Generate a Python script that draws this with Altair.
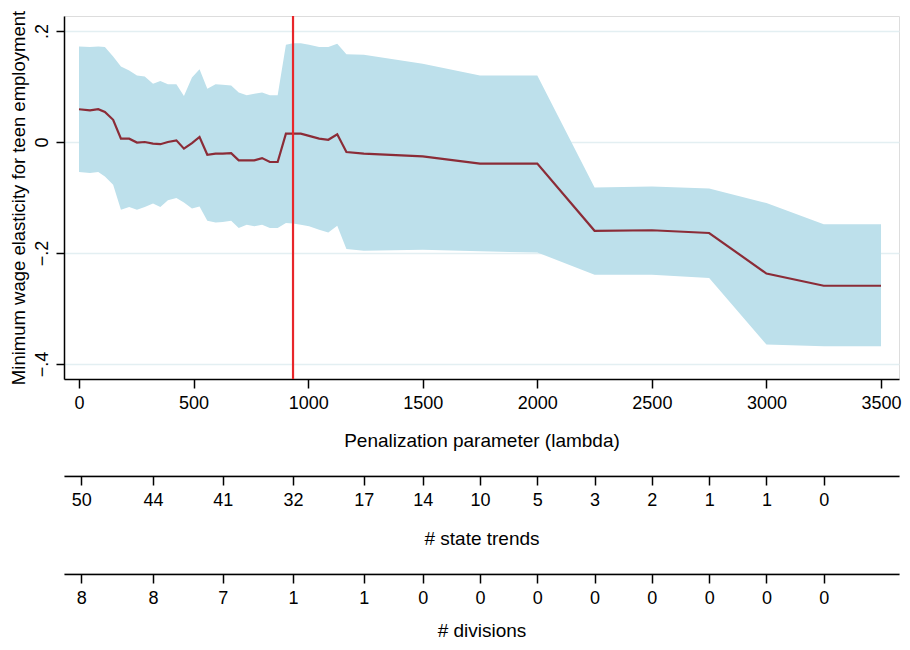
import json
import altair as alt
import pandas as pd

# ---- data ----
lam = [0, 48, 84, 113, 149, 183, 219, 253, 287, 323,
       355, 388, 425, 458, 493, 526, 560, 596, 627, 664,
       697, 732, 765, 799, 833, 867, 903, 934, 968, 1004,
       1048, 1088, 1127, 1167, 1243,
       1500, 1750, 2000, 2250, 2500, 2750, 3000, 3250, 3500]
est = [0.059, 0.057, 0.059, 0.054, 0.040, 0.006, 0.006, -0.001, 0.000, -0.003,
       -0.004, 0.000, 0.003, -0.012, -0.002, 0.009, -0.023, -0.021, -0.021, -0.020,
       -0.033, -0.033, -0.033, -0.029, -0.036, -0.036, 0.015, 0.015, 0.015, 0.011,
       0.006, 0.004, 0.014, -0.018, -0.021,
       -0.026, -0.039, -0.039, -0.160, -0.159, -0.164, -0.237, -0.259, -0.259]
ci_hi = [0.172, 0.171, 0.172, 0.171, 0.154, 0.136, 0.129, 0.120, 0.118, 0.105,
         0.110, 0.104, 0.104, 0.083, 0.116, 0.131, 0.096, 0.104, 0.103, 0.102,
         0.089, 0.084, 0.087, 0.089, 0.084, 0.084, 0.175, 0.178, 0.178, 0.175,
         0.171, 0.171, 0.177, 0.158, 0.157,
         0.141, 0.120, 0.120, -0.082, -0.080, -0.084, -0.110, -0.148, -0.148]
ci_lo = [-0.054, -0.056, -0.054, -0.062, -0.077, -0.122, -0.117, -0.122, -0.117, -0.111,
         -0.117, -0.105, -0.101, -0.109, -0.120, -0.116, -0.142, -0.145, -0.144, -0.142,
         -0.155, -0.149, -0.152, -0.149, -0.155, -0.155, -0.146, -0.147, -0.149, -0.152,
         -0.158, -0.163, -0.151, -0.193, -0.196,
         -0.194, -0.197, -0.199, -0.239, -0.239, -0.245, -0.365, -0.368, -0.368]
chosen_lambda = [934]

x_ticks = [0, 500, 1000, 1500, 2000, 2500, 3000, 3500]
y_ticks = [-0.4, -0.2, 0, 0.2]
lower_ticks = [10, 323, 627, 934, 1243, 1500, 1750, 2000, 2250, 2500, 2750, 3000, 3250]
state_trends = ["50", "44", "41", "32", "17", "14", "10", "5", "3", "2", "1", "1", "0"]
divisions = ["8", "8", "7", "1", "1", "0", "0", "0", "0", "0", "0", "0", "0"]

df = pd.DataFrame({"lam": lam, "est": est, "hi": ci_hi, "lo": ci_lo})

FONT = "Liberation Sans"
LFS = 18     # tick labels
TFS = 19     # axis titles
XDOM = [-65.46, 3578.5]
YDOM = [-0.427, 0.227]
W = 835
H = 363

xscale = alt.Scale(domain=XDOM, nice=False, zero=False)
yscale = alt.Scale(domain=YDOM, nice=False, zero=False)

common_axis = dict(
    domainColor="black", domainWidth=1.5, tickColor="black", tickWidth=1.5,
    labelColor="black", titleColor="black", labelFont=FONT, titleFont=FONT,
    labelFontSize=LFS, titleFontWeight="normal",
    labelFlush=False, labelOverlap=False,
)

x_main = alt.X(
    "lam:Q", scale=xscale,
    axis=alt.Axis(values=x_ticks, format="d", grid=False, tickSize=9,
                  labelPadding=6, title="Penalization parameter (lambda)",
                  titlePadding=19.5, titleFontSize=TFS, **common_axis),
)
y_main = alt.Y(
    "lo:Q", scale=yscale,
    axis=alt.Axis(values=y_ticks, grid=True, gridColor="#e3eff2", gridWidth=1.5,
                  tickSize=8, labelAngle=270, labelAlign="center", labelBaseline="bottom",
                  labelPadding=5,
                  labelExpr="datum.value == 0 ? '0' : replace(format(datum.value, '.1f'), '0.', '.')",
                  title="Minimum wage elasticity for teen employment", titlePadding=4.5,
                  titleFontSize=18.5, **common_axis),
)

band = alt.Chart(df).mark_area(color="#bde0eb", opacity=1).encode(
    x=x_main, y=y_main, y2="hi:Q"
)
line = alt.Chart(df).mark_line(color="#8b2c37", strokeWidth=2.2).encode(
    x="lam:Q", y="est:Q"
)
vline = alt.Chart(pd.DataFrame({"lam": chosen_lambda})).mark_rule(
    color="#e8262a", strokeWidth=2.2
).encode(x="lam:Q")

main = alt.layer(band, line, vline).properties(width=W, height=H)


def lower_axis(labels, title, title_pad):
    expr = f"{json.dumps(labels)}[indexof({json.dumps(lower_ticks)}, datum.value)]"
    tdf = pd.DataFrame({"lam": lower_ticks})
    return alt.Chart(tdf).mark_rule(opacity=0).encode(
        x=alt.X("lam:Q", scale=xscale,
                axis=alt.Axis(values=lower_ticks, labelExpr=expr, grid=False,
                              tickSize=9, labelPadding=6, title=title,
                              titlePadding=title_pad, titleFontSize=TFS, **common_axis))
    ).properties(width=W, height=1)


c2 = lower_axis(state_trends, "# state trends", 20)
c3 = lower_axis(divisions, "# divisions", 14)

chart = alt.vconcat(main, c2, c3, spacing=23).properties(
    padding={"left": 0, "top": 1, "right": 0, "bottom": 0}
).configure_view(stroke=None).configure(font=FONT)

chart.save("out.html", embed_options={"renderer": "svg", "actions": False})
